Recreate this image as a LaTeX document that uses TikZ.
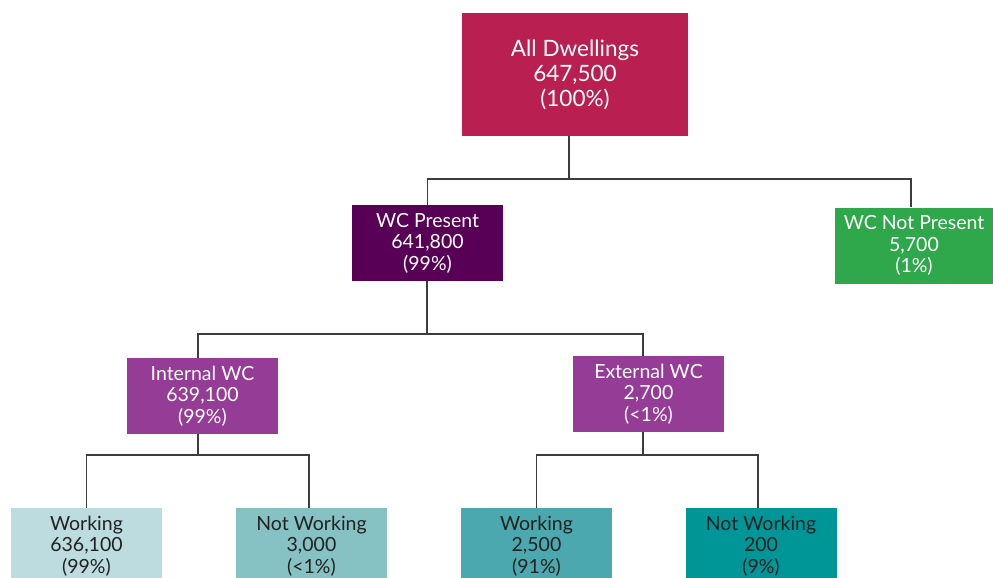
\documentclass[tikz,border=0pt]{standalone}
\usepackage{fontspec}
\setmainfont{Lato}
\definecolor{cRoot}{HTML}{B91F51}
\definecolor{cWCP}{HTML}{580056}
\definecolor{cWCNP}{HTML}{2EA84A}
\definecolor{cLoc}{HTML}{943C96}
\definecolor{cW1}{HTML}{BCDCDF}
\definecolor{cN1}{HTML}{86C1C4}
\definecolor{cW2}{HTML}{4BA8AE}
\definecolor{cN2}{HTML}{009597}
\definecolor{cLine}{HTML}{3C3C3C}
\definecolor{cDark}{HTML}{222222}
\tikzset{
  box/.style={rectangle, inner sep=0pt, minimum width=151pt, minimum height=76pt,
    align=center, font=\fontsize{19.5}{21.5}\selectfont},
  lightbox/.style={box, text=white},
  darkbox/.style={box, text=cDark},
  conn/.style={draw=cLine, line width=1.1pt}
}
\begin{document}
\begin{tikzpicture}[x=1pt,y=-1pt]
\useasboundingbox (0,0) rectangle (993,578);
\clip (0,0) rectangle (993,578);
% top level
\node[lightbox, fill=cRoot, minimum width=226pt, minimum height=123pt,
  font=\fontsize{22.5}{25}\selectfont] (root) at (575,74.5)
  {All Dwellings\\647,500\\(100\%)};
% second level
\node[lightbox, fill=cWCP] (wcp) at (427.5,243) {WC Present\\641,800\\(99\%)};
\node[lightbox, fill=cWCNP, minimum width=158pt] (wcnp) at (914,245.5) {WC Not Present\\5,700\\(1\%)};
% third level
\node[lightbox, fill=cLoc] (int) at (202.5,396) {Internal WC\\639,100\\(99\%)};
\node[lightbox, fill=cLoc] (ext) at (648.5,394) {External WC\\2,700\\(<1\%)};
% fourth level
\node[darkbox, fill=cW1] (w1) at (86.5,546) {Working\\636,100\\(99\%)};
\node[darkbox, fill=cN1] (n1) at (311.5,546) {Not Working\\3,000\\(<1\%)};
\node[darkbox, fill=cW2] (w2) at (536.5,546) {Working\\2,500\\(91\%)};
\node[darkbox, fill=cN2] (n2) at (761,546) {Not Working\\200\\(9\%)};
% connectors
\coordinate (j0) at (569,179);
\coordinate (j1) at (427,334);
\coordinate (j2) at (198,455);
\coordinate (j3) at (643,455);
\draw[conn] (root.south -| j0) -- (j0) -| (wcp.north);
\draw[conn] (j0) -| (wcnp.north -| 911,0);
\draw[conn] (wcp.south -| j1) -- (j1) -| (int.north -| 198,0);
\draw[conn] (j1) -| (ext.north -| 643,0);
\draw[conn] (int.south -| j2) -- (j2) -| (w1.north);
\draw[conn] (j2) -| (n1.north -| 309,0);
\draw[conn] (ext.south -| j3) -- (j3) -| (w2.north);
\draw[conn] (j3) -| (n2.north -| 758,0);
\end{tikzpicture}
\end{document}
